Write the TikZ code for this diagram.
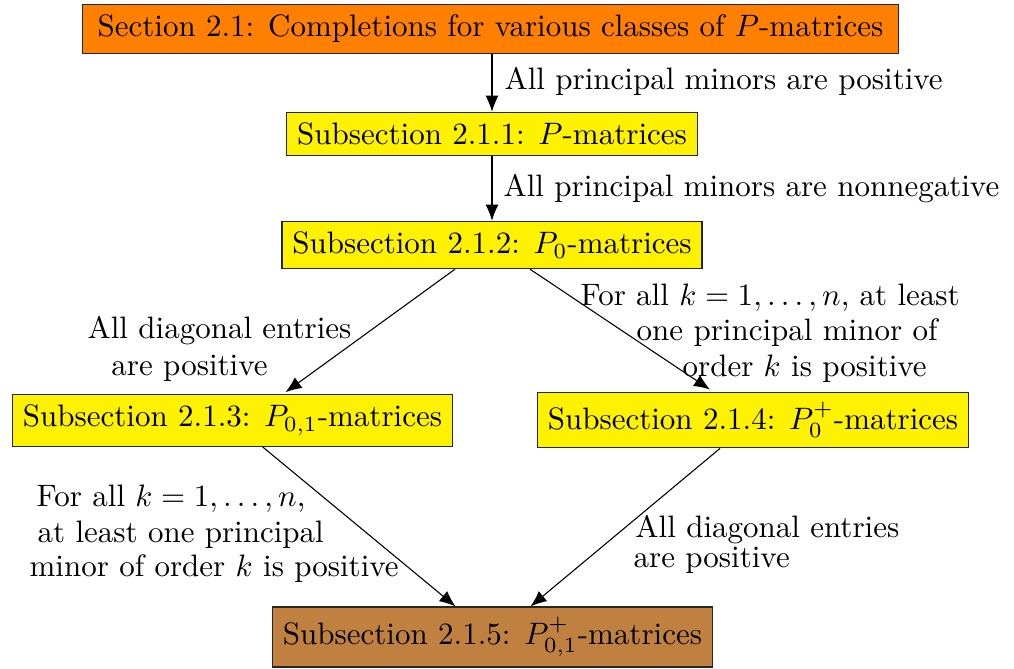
\documentclass[tikz,border=0pt]{standalone}
\usetikzlibrary{arrows.meta,calc}
\begin{document}
\begin{tikzpicture}[x=0.32258pt,y=-0.32258pt,
  box/.style={draw=black!85,line width=0.4pt,inner sep=3.33pt},
  arr/.style={line width=0.35pt,-{Latex[length=5.2pt,width=4.2pt]}},
  lab/.style={inner sep=0pt,align=left}]
\useasboundingbox (0,0) rectangle (1014,669);
% boxes
\node[box,fill=orange,inner xsep=4.8pt] (s1) at (490.5,29) {Section 2.1: Completions for various classes of $P$-matrices};
\node[box,fill=yellow] (s11) at (492,134) {Subsection 2.1.1: $P$-matrices};
\node[box,fill=yellow] (s12) at (492,245) {Subsection 2.1.2: $P_0$-matrices};
\node[box,fill=yellow] (s13) at (232.5,420.5) {Subsection 2.1.3: $P_{0,1}$-matrices};
\node[box,fill=yellow] (s14) at (753,420) {Subsection 2.1.4: $P_0^+$-matrices};
\node[box,fill=brown] (s15) at (492.5,637) {Subsection 2.1.5: $P_{0,1}^+$-matrices};
% connectors
\draw[arr] (s11.north |- s1.south) -- (s11.north);
\draw[arr] (s11.south) -- (s12.north);
\draw[arr] ($(s12.south)+(-37,0)$) -- ($(s13.north)+(53,-2)$);
\draw[arr] ($(s12.south)+(38,0)$) -- ($(s14.north)+(-43,-2)$);
\draw[arr] ($(s13.south)+(30,0)$) -- ($(s15.north)+(-37,0)$);
\draw[arr] ($(s14.south)+(-33,0)$) -- ($(s15.north)+(38,0)$);
% labels
\node[lab,anchor=base west] (l1) at (504,90) {All principal minors are positive};
\node[lab,anchor=base west] (l2) at (503,197) {All principal minors are nonnegative};
\node[lab,anchor=north west] (l3) at (87,315.5) {All diagonal entries\\ \hspace*{7.7pt}are positive};
\node[lab,anchor=north west] (l4) at (580,283.5) {For all $k=1,\dots,n$, at least\\[-0.6pt] \hspace*{18.1pt}one principal minor of\\[-0.6pt] \hspace*{32.9pt}order $k$ is positive};
\node[lab,anchor=north west] (l5) at (29,484.5) {\hspace*{2.3pt}For all $k=1,\dots,n$,\\[-0.4pt] \hspace*{2.6pt}at least one principal\\[-1pt] minor of order $k$ is positive};
\node[lab,anchor=north west] (l6) at (633,514.5) {\hspace*{0.6pt}All diagonal entries\\[-2.4pt] are positive};
\end{tikzpicture}
\end{document}
